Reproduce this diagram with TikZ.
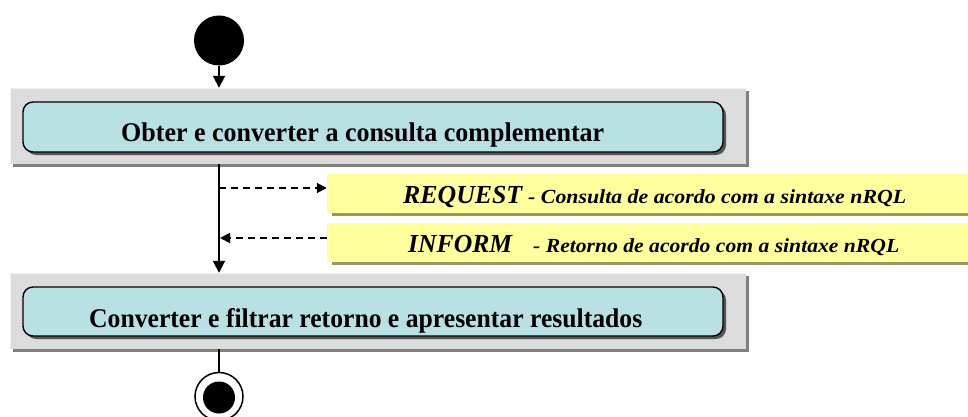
\documentclass[tikz,border=0pt]{standalone}
\usepackage{fontspec}
\setmainfont{Liberation Serif}
\usetikzlibrary{arrows.meta,shadows}
\definecolor{panel}{RGB}{220,220,220}
\definecolor{panelshade}{RGB}{128,128,128}
\definecolor{panellight}{RGB}{240,240,240}
\definecolor{act}{RGB}{185,224,227}
\definecolor{actshade}{RGB}{85,85,85}
\definecolor{note}{RGB}{255,255,158}
\definecolor{noteshade}{RGB}{153,153,102}
\begin{document}
\begin{tikzpicture}[x=1pt,y=-1pt,
  panelbox/.style={rectangle, fill=panel, draw=none, minimum width=736pt, minimum height=76pt, inner sep=0pt,
    drop shadow={shadow xshift=3pt, shadow yshift=-3pt, fill=panelshade, opacity=1}},
  actbox/.style={rectangle, rounded corners=10pt, fill=act, draw=black, line width=1.4pt,
    minimum width=700pt, minimum height=50pt, inner sep=0pt,
    drop shadow={shadow xshift=3pt, shadow yshift=-3pt, fill=actshade, opacity=1}},
  notebox/.style={rectangle, fill=note, draw=none, minimum width=645pt, minimum height=39pt, inner sep=0pt,
    drop shadow={shadow xshift=5pt, shadow yshift=-3pt, fill=noteshade, opacity=1}},
  lbl/.style={anchor=base west, inner sep=0pt},
  flow/.style={line width=1.8pt, -{Triangle[length=12pt,width=12pt]}},
  msg/.style={line width=1.8pt, dash pattern=on 7pt off 5pt, -{Triangle[length=10pt,width=10pt]}},
  plain/.style={line width=1.8pt}
]
\useasboundingbox (0,0) rectangle (968,417);
\begin{scope}
\clip (0,0) rectangle (968,417);
% panels
\node[panelbox] (g1) at (378,126) {};
\node[panelbox] (g2) at (378,311) {};
\draw[panellight, line width=1.5pt] ([xshift=0.75pt]g1.south west) -- ([xshift=0.75pt,yshift=-0.75pt]g1.north west) -- ([yshift=-0.75pt]g1.north east);
\draw[panellight, line width=1.5pt] ([xshift=0.75pt]g2.south west) -- ([xshift=0.75pt,yshift=-0.75pt]g2.north west) -- ([yshift=-0.75pt]g2.north east);
% activities
\node[actbox] (a1) at (373,127) {};
\node[actbox, minimum height=49pt] (a2) at (373,311.5) {};
\node[lbl] (l1) at (121,141.5) {\resizebox{483pt}{\height}{\fontsize{27}{30}\selectfont\bfseries Obter e converter a consulta complementar}};
\node[lbl] (l2) at (89,327) {\resizebox{553pt}{\height}{\fontsize{27}{30}\selectfont\bfseries Converter e filtrar retorno e apresentar resultados}};
% notes
\node[notebox] (y1) at (649.5,193.5) {};
\node[notebox] (y2) at (649.5,242.5) {};
\node[lbl] (q1) at (403,203) {\resizebox{119pt}{\height}{\fontsize{26}{30}\selectfont\bfseries\itshape REQUEST}};
\node[lbl] (q2) at (528,203) {\resizebox{378pt}{\height}{\fontsize{20}{24}\selectfont\bfseries\itshape - Consulta de acordo com a sintaxe nRQL}};
\node[lbl] (i1) at (408,252) {\resizebox{104pt}{\height}{\fontsize{26}{30}\selectfont\bfseries\itshape INFORM}};
\node[lbl] (i2) at (533,252) {\resizebox{366pt}{\height}{\fontsize{20}{24}\selectfont\bfseries\itshape - Retorno de acordo com a sintaxe nRQL}};
% start / end
\node[circle, fill=black, minimum size=50pt, inner sep=0pt] (start) at (219,40.5) {};
\node[circle, fill=white, draw=black, line width=1.5pt, minimum size=48pt, inner sep=0pt] (end) at (219,396.5) {};
\node[circle, fill=black, minimum size=32pt, inner sep=0pt] (endin) at (219,397.5) {};
% connectors
\coordinate (r1) at (219,188);
\coordinate (r2) at (219,238);
\draw[flow] (start.south) -- (start |- g1.north);
\draw[flow] (start |- g1.south) -- (start |- g2.north);
\draw[msg] (r1) -- (r1 -| y1.west);
\draw[msg] (r2 -| y2.west) -- ([xshift=1pt]r2);
\draw[plain] (start |- g2.south) -- (end.north);
\end{scope}
\end{tikzpicture}
\end{document}
